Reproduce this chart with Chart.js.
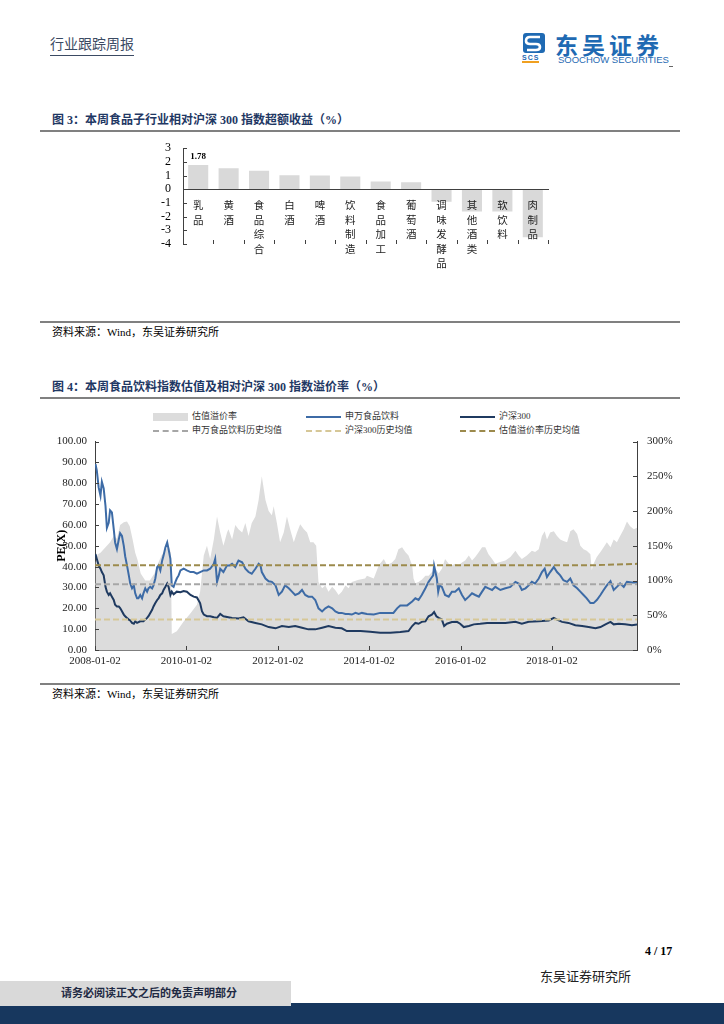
<!DOCTYPE html>
<html lang="zh-CN">
<head>
<meta charset="utf-8">
<title>行业跟踪周报</title>
<script src="https://cdn.jsdelivr.net/npm/chart.js@4.4.1/dist/chart.umd.min.js"></script>
<style>
  html, body { margin: 0; padding: 0; }
  body {
    width: 724px; height: 1024px; position: relative; overflow: hidden; background: #fff;
    font-family: "Liberation Serif", "Noto Sans CJK SC", serif; color: #000;
  }
  .abs { position: absolute; white-space: nowrap; line-height: 1; }
  .head { left: 50px; top: 38px; font-size: 14px; color: #3b4a63; padding-bottom: 3px; border-bottom: 1px solid #3b4a63; }
  .figtitle { left: 52px; font-size: 12px; font-weight: bold; color: #1f3864; }
  .rule { position: absolute; left: 40px; width: 640px; height: 0; border-top: 2px solid #808080; }
  .src { left: 52px; font-size: 11px; }
  .lg { position: absolute; font-size: 9px; color: #333; line-height: 10px; white-space: nowrap; }
  .lg i { display: inline-block; width: 35px; vertical-align: middle; margin-right: 4px; }
</style>
</head>
<body>

<!-- page header -->
<div class="abs head">行业跟踪周报</div>
<svg class="abs" style="left:521px;top:31px" width="26" height="24" viewBox="0 0 26 24">
  <rect x="2" y="2" width="22" height="20" rx="3" fill="#1f6ab3"/>
  <path d="M19 6 L9 6 Q5 6 5 10 Q5 13 9 13 L15 13 Q19 13 19 16 Q19 19 15 19 L6 19" stroke="#fff" stroke-width="2.6" fill="none"/>
</svg>
<div class="abs" style="left:522px;top:54px;font:bold 7px 'Liberation Sans';color:#1f6ab3;letter-spacing:1px;border-bottom:2px solid #f0a020">SCS</div>
<div class="abs" style="left:555px;top:27px;font:bold 23px 'Noto Sans CJK SC';color:#1f6ab3;letter-spacing:4px">东吴证券</div>
<div class="abs" style="left:558px;top:54px;font:9.5px 'Liberation Sans';color:#1f6ab3">SOOCHOW SECURITIES</div>
<div class="abs" style="left:669px;top:66px;width:4px;height:1px;background:#666"></div>

<!-- figure 3 -->
<div class="abs figtitle" style="top:114px">图 3：本周食品子行业相对沪深 300 指数超额收益（%）</div>
<div class="rule" style="top:130px"></div>
<canvas id="excessChart" class="abs" style="left:130px;top:129px" width="440" height="144"></canvas>
<div class="rule" style="top:321px"></div>
<div class="abs src" style="top:327px">资料来源：Wind，东吴证券研究所</div>

<!-- figure 4 -->
<div class="abs figtitle" style="top:381px">图 4：本周食品饮料指数估值及相对沪深 300 指数溢价率（%）</div>
<div class="rule" style="top:397px"></div>
<div id="legend"></div>
<canvas id="peChart" class="abs" style="left:30px;top:425px" width="660" height="255"></canvas>
<div class="rule" style="top:683px"></div>
<div class="abs src" style="top:689px">资料来源：Wind，东吴证券研究所</div>

<!-- page footer -->
<div class="abs" style="left:645px;top:944px;font:bold 12px 'Liberation Serif'">4 / 17</div>
<div class="abs" style="left:540px;top:970px;font-size:13px;color:#222">东吴证券研究所</div>
<div class="abs" style="left:0;top:1003px;width:724px;height:21px;background:#17375e"></div>
<div class="abs" style="left:0;top:981px;width:291px;height:25px;background:#d9d9d9"></div>
<div class="abs" style="left:61px;top:988px;font-size:11px;font-weight:bold;color:#1f2a44">请务必阅读正文之后的免责声明部分</div>

<script>
// ---- figure 3 data ----
const subSectors = ["乳品", "黄酒", "食品综合", "白酒", "啤酒", "饮料制造", "食品加工", "葡萄酒", "调味发酵品", "其他酒类", "软饮料", "肉制品"];
const excessReturn = [1.78, 1.53, 1.36, 1.02, 1.0, 0.93, 0.56, 0.51, -0.92, -1.63, -1.63, -3.5];
const excessTicks = [3, 2, 1, 0, -1, -2, -3, -4];

// ---- figure 4 data: [decimal year, value] ----
const swPE = [[2008.01,89.3],[2008.04,86],[2008.08,78],[2008.12,74],[2008.15,80.7],[2008.19,77.5],[2008.23,69],[2008.26,58.6],[2008.30,61],[2008.33,67],[2008.37,66],[2008.41,58],[2008.44,51.6],[2008.48,48.4],[2008.52,53],[2008.55,56],[2008.59,54.7],[2008.63,50],[2008.66,45],[2008.70,40.6],[2008.74,35.8],[2008.77,32],[2008.81,29.6],[2008.85,31],[2008.88,27.2],[2008.92,24.8],[2008.95,24.8],[2008.99,26.4],[2009.03,24.8],[2009.06,27.2],[2009.10,29.6],[2009.14,28],[2009.17,29.6],[2009.21,30.3],[2009.25,29.6],[2009.28,31],[2009.32,34.3],[2009.36,39.8],[2009.39,40.6],[2009.43,38.2],[2009.47,43],[2009.50,45.3],[2009.54,49.2],[2009.58,51.6],[2009.61,48.4],[2009.65,43.7],[2009.68,31],[2009.72,30.3],[2009.76,32.7],[2009.79,34.3],[2009.83,35.8],[2009.87,38.2],[2009.94,39],[2010.01,38.2],[2010.09,37.4],[2010.16,37.4],[2010.23,36.6],[2010.30,37.4],[2010.38,38.2],[2010.45,38.2],[2010.52,39],[2010.60,41.4],[2010.63,43.7],[2010.67,32.7],[2010.71,35.8],[2010.74,39],[2010.81,37.4],[2010.89,40.6],[2010.95,40.6],[2011.00,41.4],[2011.07,39.8],[2011.14,42.9],[2011.22,42.1],[2011.29,39],[2011.36,37.4],[2011.43,36.6],[2011.51,39],[2011.58,41.4],[2011.62,40.6],[2011.65,37.4],[2011.73,34.3],[2011.80,33],[2011.87,32.7],[2011.95,31],[2012.02,26.4],[2012.09,28],[2012.16,31],[2012.24,29.6],[2012.31,28],[2012.38,26.4],[2012.46,27.2],[2012.53,28.8],[2012.60,26.4],[2012.67,25.6],[2012.75,25.6],[2012.82,24],[2012.89,20],[2012.97,18.5],[2013.04,20],[2013.11,20.9],[2013.19,20],[2013.26,18.5],[2013.33,17.8],[2013.40,17.8],[2013.48,17.3],[2013.55,17.3],[2013.62,17],[2013.70,17.8],[2013.77,17.3],[2013.84,17.8],[2013.95,17.3],[2014.10,17],[2014.24,17.8],[2014.39,17.8],[2014.53,17.8],[2014.61,20],[2014.68,21.4],[2014.83,21.4],[2014.94,23.3],[2015.01,24.8],[2015.08,24],[2015.15,26.4],[2015.23,29.6],[2015.30,32.7],[2015.35,34.3],[2015.40,35.8],[2015.42,40.5],[2015.45,37.4],[2015.48,34.3],[2015.51,28],[2015.54,31],[2015.59,30.3],[2015.66,26.4],[2015.74,25.6],[2015.81,28],[2015.88,28],[2015.96,29.6],[2016.03,26.4],[2016.10,24],[2016.18,25.6],[2016.25,27.2],[2016.32,26.4],[2016.40,25.6],[2016.47,28],[2016.54,30.3],[2016.61,29.6],[2016.69,28.8],[2016.76,30.3],[2016.87,28.8],[2016.98,29.6],[2017.09,30.3],[2017.20,32.7],[2017.27,31.9],[2017.34,28.8],[2017.42,29.6],[2017.49,31],[2017.56,32.7],[2017.63,31.9],[2017.71,34.3],[2017.78,37.4],[2017.84,39],[2017.89,35],[2017.96,37.4],[2018.04,39.8],[2018.11,37.4],[2018.18,35.8],[2018.25,33.5],[2018.33,32.7],[2018.40,34.3],[2018.47,31],[2018.55,29.6],[2018.62,28],[2018.69,26.4],[2018.76,24.8],[2018.84,22.5],[2018.91,22.5],[2018.98,24],[2019.06,26.4],[2019.13,28.8],[2019.20,31],[2019.28,33],[2019.35,28.8],[2019.42,30.3],[2019.49,31.9],[2019.57,30.3],[2019.64,32.7],[2019.75,32.4],[2019.86,32.4]];

const hs300PE = [[2008.01,46],[2008.04,43.7],[2008.08,40.6],[2008.12,39],[2008.15,37.4],[2008.19,35.8],[2008.23,30.3],[2008.26,28],[2008.30,26.4],[2008.33,27.2],[2008.37,25.6],[2008.41,24],[2008.44,21.7],[2008.48,20.9],[2008.52,20.9],[2008.55,20.1],[2008.59,18.6],[2008.63,17],[2008.66,16.2],[2008.70,15.4],[2008.74,14.6],[2008.77,14.2],[2008.81,13],[2008.85,12.6],[2008.88,13.8],[2008.92,13],[2008.99,13.8],[2009.06,13.8],[2009.10,14.6],[2009.14,15.4],[2009.17,16.2],[2009.21,17.8],[2009.25,19.3],[2009.28,20.9],[2009.32,22.5],[2009.36,24],[2009.39,24.8],[2009.43,26.4],[2009.47,27.2],[2009.50,28.8],[2009.54,30.3],[2009.58,31.9],[2009.61,30.3],[2009.65,26.4],[2009.68,28],[2009.72,26.7],[2009.79,28],[2009.87,27.7],[2009.94,28.3],[2010.01,28],[2010.09,26.4],[2010.16,25.6],[2010.23,25.2],[2010.30,22.5],[2010.34,18.6],[2010.38,17],[2010.45,16.2],[2010.52,16.2],[2010.60,15.7],[2010.67,15.4],[2010.74,17.3],[2010.81,16.2],[2011.00,15.4],[2011.14,15.1],[2011.25,15.7],[2011.36,13.8],[2011.51,13],[2011.65,12.3],[2011.80,11],[2011.95,10.4],[2012.09,11.5],[2012.24,11],[2012.38,11.5],[2012.53,10.7],[2012.67,9.9],[2012.82,9.9],[2012.97,10.7],[2013.11,11.5],[2013.26,10.7],[2013.40,10.4],[2013.51,9.1],[2013.66,9.1],[2013.81,9.1],[2014.02,8.8],[2014.24,8.3],[2014.46,8.3],[2014.68,8.6],[2014.86,9.1],[2014.94,11.5],[2015.01,13],[2015.08,12.6],[2015.15,13.5],[2015.23,13.8],[2015.30,16.2],[2015.37,17],[2015.42,18.2],[2015.47,16.2],[2015.52,15.4],[2015.59,14.6],[2015.64,11.5],[2015.70,12.6],[2015.81,13.4],[2015.92,13.5],[2015.99,12.6],[2016.07,11],[2016.18,11.5],[2016.29,12.3],[2016.43,12.6],[2016.58,13],[2016.72,13],[2016.98,13],[2017.20,13.5],[2017.34,12.6],[2017.49,13.5],[2017.71,13.8],[2017.93,14.2],[2018.04,15.4],[2018.11,14.6],[2018.22,13.5],[2018.36,13],[2018.51,11.9],[2018.66,11.5],[2018.80,11],[2018.95,10.4],[2019.06,11],[2019.17,12.3],[2019.28,13.5],[2019.35,12.3],[2019.46,12.6],[2019.60,12.3],[2019.75,11.9],[2019.86,12.3]];

const premiumPct = [[2008.01,126],[2008.06,138],[2008.12,140],[2008.19,145],[2008.26,150],[2008.33,155],[2008.41,164],[2008.48,160],[2008.55,180],[2008.63,184],[2008.70,185],[2008.76,178],[2008.82,160],[2008.88,140],[2008.93,130],[2009.00,110],[2009.10,100],[2009.20,100],[2009.30,110],[2009.38,125],[2009.47,138],[2009.55,145],[2009.62,148],[2009.66,140],[2009.68,23],[2009.79,27],[2009.94,41],[2010.09,53],[2010.23,65],[2010.30,84],[2010.38,136],[2010.45,150],[2010.52,131],[2010.60,159],[2010.67,192],[2010.74,169],[2010.81,150],[2010.89,169],[2010.92,174],[2011.00,159],[2011.07,180],[2011.14,174],[2011.22,169],[2011.29,183],[2011.36,164],[2011.43,183],[2011.51,192],[2011.58,216],[2011.65,250],[2011.73,216],[2011.80,200],[2011.87,194],[2011.91,207],[2011.98,183],[2012.05,155],[2012.13,169],[2012.20,192],[2012.27,174],[2012.35,155],[2012.42,169],[2012.49,181],[2012.57,174],[2012.64,169],[2012.71,155],[2012.78,155],[2012.84,150],[2012.89,98],[2012.97,89],[2013.04,93],[2013.11,84],[2013.19,91],[2013.26,86],[2013.33,79],[2013.40,84],[2013.48,93],[2013.55,89],[2013.62,98],[2013.77,101],[2013.91,103],[2013.95,107],[2014.10,103],[2014.21,122],[2014.32,131],[2014.39,122],[2014.50,126],[2014.57,131],[2014.64,145],[2014.72,148],[2014.79,141],[2014.86,136],[2014.94,122],[2014.97,103],[2015.01,96],[2015.08,98],[2015.15,101],[2015.23,107],[2015.30,107],[2015.37,112],[2015.45,117],[2015.52,110],[2015.59,117],[2015.66,131],[2015.74,124],[2015.81,122],[2015.88,124],[2015.96,122],[2016.03,126],[2016.10,129],[2016.18,136],[2016.25,129],[2016.32,134],[2016.40,141],[2016.47,148],[2016.54,148],[2016.61,138],[2016.69,131],[2016.76,124],[2016.83,126],[2016.98,129],[2017.09,134],[2017.20,143],[2017.27,136],[2017.34,131],[2017.45,136],[2017.56,143],[2017.63,141],[2017.71,145],[2017.78,164],[2017.84,171],[2017.89,159],[2017.96,169],[2018.04,171],[2018.11,164],[2018.18,159],[2018.25,157],[2018.33,155],[2018.40,171],[2018.47,174],[2018.55,167],[2018.62,150],[2018.69,145],[2018.76,143],[2018.84,138],[2018.87,115],[2018.91,124],[2018.98,134],[2019.06,141],[2019.13,148],[2019.20,155],[2019.28,148],[2019.35,159],[2019.42,155],[2019.49,164],[2019.57,174],[2019.64,185],[2019.71,178],[2019.79,174],[2019.86,176]];

const swAvgPE = 31.5;
const hs300AvgPE = 14.6;
const premiumAvgPct = [[2008.0,122],[2018.9,122],[2019.86,124]];
const dateTicks = [2008, 2010, 2012, 2014, 2016, 2018];
const xStart = 2008, xEnd = 2019.86;

const serif = "'Liberation Serif', 'Noto Sans CJK SC', serif";
const toXY = (arr) => arr.map(([x, y]) => ({ x, y }));

// small inward tick marks on every axis
const innerTicks = {
  id: "innerTicks",
  afterDraw(chart) {
    const ctx = chart.ctx;
    const len = 4;
    ctx.save();
    ctx.strokeStyle = "#404040";
    ctx.lineWidth = 1;
    Object.values(chart.scales).forEach((s) => {
      let marks;
      if (s.type === "category") {
        const n = s.getLabels().length;
        marks = [];
        for (let i = 0; i <= n; i++) marks.push(s.left + (i * s.width) / n);
      } else {
        marks = s.ticks.map((t) => s.getPixelForValue(t.value));
      }
      ctx.beginPath();
      marks.forEach((p) => {
        p = Math.round(p) + 0.5;
        if (s.isHorizontal()) {
          ctx.moveTo(p, s.top);
          ctx.lineTo(p, s.top - len);
        } else if (s.position === "left") {
          ctx.moveTo(s.right, p);
          ctx.lineTo(s.right + len, p);
        } else {
          ctx.moveTo(s.left, p);
          ctx.lineTo(s.left - len, p);
        }
      });
      ctx.stroke();
    });
    ctx.restore();
  },
};

// value label above the leading bar
const firstBarLabel = {
  id: "firstBarLabel",
  afterDatasetsDraw(chart) {
    const bar = chart.getDatasetMeta(0).data[0];
    const ctx = chart.ctx;
    ctx.save();
    ctx.font = "bold 9px 'Liberation Serif'";
    ctx.fillStyle = "#000";
    ctx.textAlign = "center";
    ctx.textBaseline = "bottom";
    ctx.fillText(excessReturn[0].toFixed(2), bar.x, bar.y - 4);
    ctx.restore();
  },
};

// ✅ Figure 3
new Chart(document.getElementById("excessChart"), {
  type: "bar",
  data: {
    labels: subSectors.map((s) => s.split("")),
    datasets: [
      {
        data: excessReturn,
        backgroundColor: "#d9d9d9",
        barPercentage: 0.66,
        categoryPercentage: 1,
      },
    ],
  },
  options: {
    responsive: false,
    animation: false,
    layout: { padding: { top: 0, bottom: 29, right: 22 } },
    plugins: { legend: { display: false }, tooltip: { enabled: false } },
    scales: {
      x: {
        position: { y: 0 },
        grid: { display: false, drawTicks: false },
        border: { display: true, color: "#404040", z: 1 },
        ticks: {
          z: 1,
          padding: 9,
          color: "#222",
          maxRotation: 0,
          autoSkip: false,
          font: { family: "'Noto Sans CJK SC'", size: 10.5, lineHeight: 1.38 },
        },
      },
      y: {
        min: -4,
        max: 3,
        grid: { display: false, drawTicks: false },
        border: { display: true, color: "#404040" },
        afterBuildTicks: (s) => { s.ticks = excessTicks.map((v) => ({ value: v })); },
        afterFit: (s) => { s.width = 53; },
        ticks: { autoSkip: false, padding: 12, color: "#000", font: { family: serif, size: 12 } },
      },
    },
  },
  plugins: [innerTicks, firstBarLabel],
});

// ✅ Figure 4
const pe = new Chart(document.getElementById("peChart"), {
  type: "line",
  data: {
    datasets: [
      { label: "估值溢价率", data: toXY(premiumPct), yAxisID: "yR", fill: "origin",
        backgroundColor: "#dcdcdc", borderWidth: 0, pointRadius: 0, order: 9,
        legendStyle: "background:#dcdcdc;height:8px" },
      { label: "申万食品饮料", data: toXY(swPE), yAxisID: "y", borderColor: "#3d6ba6",
        borderWidth: 2, pointRadius: 0, order: 4, legendStyle: "border-top:2px solid #3d6ba6" },
      { label: "沪深300", data: toXY(hs300PE), yAxisID: "y", borderColor: "#1f3a60",
        borderWidth: 2, pointRadius: 0, order: 3, legendStyle: "border-top:2px solid #1f3a60" },
      { label: "申万食品饮料历史均值", data: [{ x: xStart, y: swAvgPE }, { x: xEnd, y: swAvgPE }],
        yAxisID: "y", borderColor: "#a6a6a6", borderDash: [6, 3], borderWidth: 2, pointRadius: 0, order: 2,
        legendStyle: "border-top:2px dashed #a6a6a6" },
      { label: "沪深300历史均值", data: [{ x: xStart, y: hs300AvgPE }, { x: xEnd, y: hs300AvgPE }],
        yAxisID: "y", borderColor: "#d6c797", borderDash: [6, 3], borderWidth: 2, pointRadius: 0, order: 2,
        legendStyle: "border-top:2px dashed #d6c797" },
      { label: "估值溢价率历史均值", data: toXY(premiumAvgPct), yAxisID: "yR",
        borderColor: "#9c8a4c", borderDash: [6, 3], borderWidth: 2, pointRadius: 0, order: 1,
        legendStyle: "border-top:2px dashed #9c8a4c" },
    ],
  },
  options: {
    responsive: false,
    animation: false,
    layout: { padding: { top: 12 } },
    elements: { line: { tension: 0 } },
    plugins: { legend: { display: false }, tooltip: { enabled: false } },
    scales: {
      x: {
        type: "linear",
        min: xStart,
        max: xEnd,
        grid: { display: false, drawTicks: false },
        border: { color: "#7f7f7f" },
        afterBuildTicks: (s) => { s.ticks = dateTicks.map((v) => ({ value: v })); },
        afterFit: (s) => { s.height = 30; },
        ticks: { padding: 5, color: "#222", font: { family: serif, size: 11 }, callback: (v) => v + "-01-02" },
      },
      y: {
        position: "left",
        min: 0,
        max: 100,
        grid: { display: false, drawTicks: false },
        border: { color: "#404040" },
        afterFit: (s) => { s.width = 65; },
        title: { display: true, text: "PE(X)", color: "#000", padding: { top: 25, bottom: 0 },
                 font: { family: serif, size: 12, weight: "bold" } },
        ticks: { stepSize: 10, padding: 8, color: "#222", font: { family: serif, size: 11 },
                 callback: (v) => v.toFixed(2) },
      },
      yR: {
        position: "right",
        min: 0,
        max: 300,
        grid: { display: false, drawTicks: false },
        border: { color: "#404040" },
        afterFit: (s) => { s.width = 53; },
        ticks: { stepSize: 50, padding: 10, color: "#222", font: { family: serif, size: 11 },
                 callback: (v) => v + "%" },
      },
    },
  },
  plugins: [innerTicks],
});

// legend: 3 columns x 2 rows above the plot
const legendBox = document.getElementById("legend");
const legendCols = [153, 306, 460];
const legendRows = [411, 425];
pe.data.datasets.forEach((ds, i) => {
  const el = document.createElement("div");
  el.className = "lg";
  el.style.left = legendCols[i % 3] + "px";
  el.style.top = legendRows[Math.floor(i / 3)] + "px";
  el.innerHTML = `<i style="${ds.legendStyle}"></i>${ds.label}`;
  legendBox.appendChild(el);
});
</script>
</body>
</html>
